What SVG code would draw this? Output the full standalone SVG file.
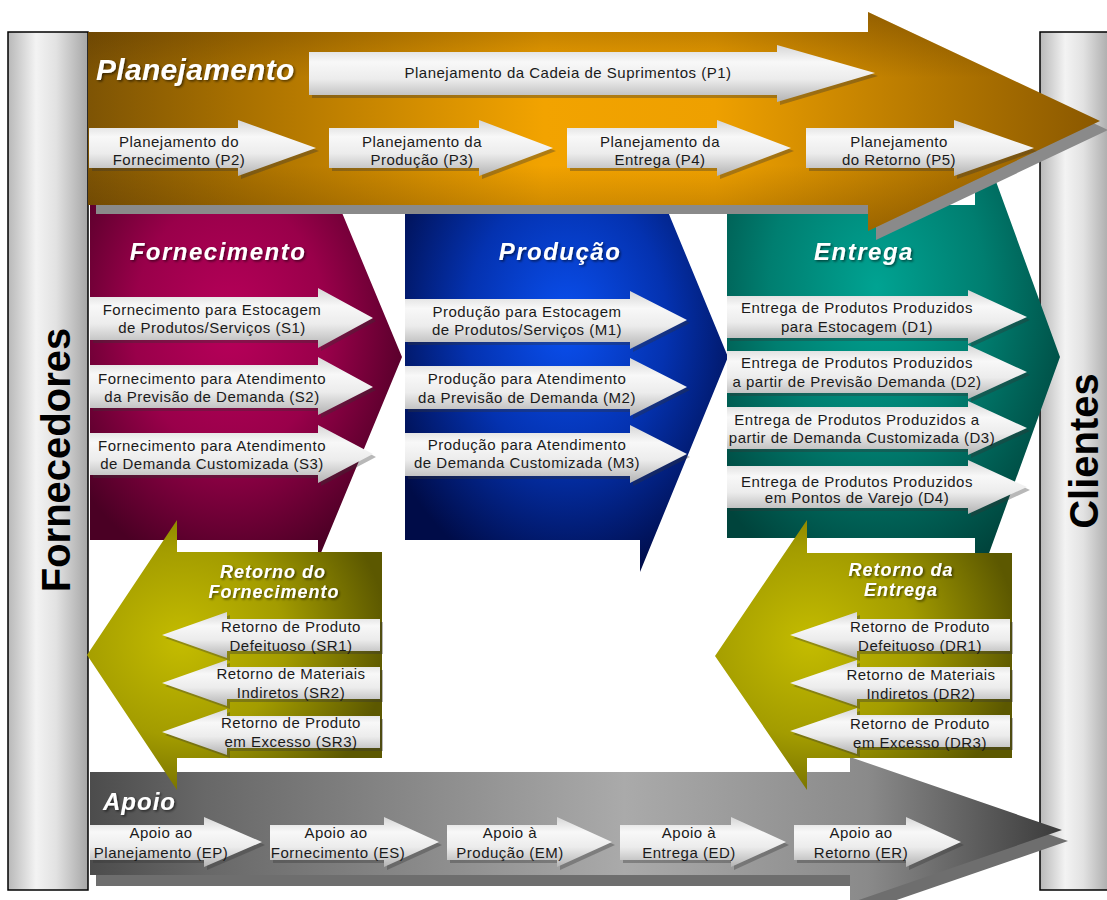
<svg xmlns="http://www.w3.org/2000/svg" width="1107" height="900" viewBox="0 0 1107 900">
<style>
.t{font-family:"Liberation Sans",Arial,sans-serif;font-size:15px;letter-spacing:0.5px;fill:#1a1a1a;text-anchor:middle}
.h{font-family:"Liberation Sans",Arial,sans-serif;font-weight:bold;font-style:italic;fill:#fff;text-anchor:middle;filter:url(#ts)}
.pt{font-family:"Liberation Sans",Arial,sans-serif;font-weight:bold;font-size:40px;fill:#000;text-anchor:middle}
.arr{fill:url(#gArr)}
.sh{fill:#333;opacity:0.35}
</style>
<defs>
<filter id="ts" x="-10%" y="-30%" width="130%" height="160%"><feDropShadow dx="1.5" dy="1.5" stdDeviation="1" flood-color="#000" flood-opacity="0.55"/></filter>
<linearGradient id="gArr" x1="0" y1="0" x2="0" y2="1"><stop offset="0" stop-color="#d6d6d6"/><stop offset="0.3" stop-color="#f8f8f8"/><stop offset="0.6" stop-color="#ececec"/><stop offset="1" stop-color="#b3b3b3"/></linearGradient>
<linearGradient id="gPil" x1="0" y1="0" x2="1" y2="0"><stop offset="0" stop-color="#b8b8b8"/><stop offset="0.35" stop-color="#f3f3f3"/><stop offset="0.6" stop-color="#e2e2e2"/><stop offset="1" stop-color="#a6a6a6"/></linearGradient>
<linearGradient id="gPlan" x1="0" y1="0" x2="1" y2="0"><stop offset="0" stop-color="#7e5404"/><stop offset="0.15" stop-color="#a87000"/><stop offset="0.45" stop-color="#f2a300"/><stop offset="0.62" stop-color="#eea000"/><stop offset="0.82" stop-color="#b87a00"/><stop offset="1" stop-color="#8a5800"/></linearGradient>
<linearGradient id="gVs" x1="0" y1="0" x2="0" y2="1"><stop offset="0" stop-color="#3c2000" stop-opacity="0.35"/><stop offset="0.3" stop-color="#3c2000" stop-opacity="0"/><stop offset="0.7" stop-color="#3c2000" stop-opacity="0"/><stop offset="1" stop-color="#3c2000" stop-opacity="0.3"/></linearGradient>
<radialGradient id="gMag" cx="0.45" cy="0.42" r="0.62"><stop offset="0" stop-color="#b8005a"/><stop offset="0.5" stop-color="#99004a"/><stop offset="1" stop-color="#4a0024"/></radialGradient>
<radialGradient id="gBlue" cx="0.5" cy="0.42" r="0.62"><stop offset="0" stop-color="#0a50f0"/><stop offset="0.5" stop-color="#0432b0"/><stop offset="1" stop-color="#000c48"/></radialGradient>
<radialGradient id="gTeal" cx="0.45" cy="0.35" r="0.65"><stop offset="0" stop-color="#00a392"/><stop offset="0.5" stop-color="#007e70"/><stop offset="1" stop-color="#00443c"/></radialGradient>
<radialGradient id="gOl" cx="0.32" cy="0.45" r="0.7"><stop offset="0" stop-color="#c4bc00"/><stop offset="0.5" stop-color="#a39c00"/><stop offset="1" stop-color="#5c5800"/></radialGradient>
<linearGradient id="gApo" x1="0" y1="0" x2="1" y2="0"><stop offset="0" stop-color="#4c4c4c"/><stop offset="0.12" stop-color="#686868"/><stop offset="0.55" stop-color="#aaaaaa"/><stop offset="0.8" stop-color="#8a8a8a"/><stop offset="1" stop-color="#3a3a3a"/></linearGradient>
</defs>
<rect x="0" y="0" width="1107" height="900" fill="#fff"/>

<g id="fornecedores">
<rect x="8" y="32" width="80" height="858" fill="url(#gPil)" stroke="#000" stroke-width="1.5"/>
<text class="pt" transform="translate(70,460) rotate(-90)">Fornecedores</text>
</g>
<g id="clientes">
<rect x="1040" y="32" width="72" height="858" fill="url(#gPil)" stroke="#000" stroke-width="1.5"/>
<text class="pt" transform="translate(1098,451) rotate(-90)">Clientes</text>
</g>

<g id="apoio">
<path d="M90 772 H850 V757 L1062 830 L850 903 V875 H90 Z" fill="#6e6e6e" transform="translate(6,11)"/>
<path d="M90 772 H850 V757 L1062 830 L850 903 V875 H90 Z" fill="url(#gApo)"/>
<text class="h" x="103" y="810" style="text-anchor:start;font-size:24px;letter-spacing:1px">Apoio</text>
<g id="ep"><path class="sh" transform="translate(3,3)" d="M90 825 H204 V817 L262 842 L204 867 V860 H90 Z"/><path class="arr" d="M90 825 H204 V817 L262 842 L204 867 V860 H90 Z"/><text class="t" x="161" y="838">Apoio ao</text><text class="t" x="161" y="858">Planejamento (EP)</text></g>
<g id="es"><path class="sh" transform="translate(3,3)" d="M270 825 H384 V817 L439 842 L384 867 V860 H270 Z"/><path class="arr" d="M270 825 H384 V817 L439 842 L384 867 V860 H270 Z"/><text class="t" x="336" y="838">Apoio ao</text><text class="t" x="338" y="858">Fornecimento (ES)</text></g>
<g id="em"><path class="sh" transform="translate(3,3)" d="M447 825 H557 V817 L612 842 L557 867 V860 H447 Z"/><path class="arr" d="M447 825 H557 V817 L612 842 L557 867 V860 H447 Z"/><text class="t" x="510" y="838">Apoio à</text><text class="t" x="510" y="858">Produção (EM)</text></g>
<g id="ed"><path class="sh" transform="translate(3,3)" d="M620 825 H731 V817 L786 842 L731 867 V860 H620 Z"/><path class="arr" d="M620 825 H731 V817 L786 842 L731 867 V860 H620 Z"/><text class="t" x="689" y="838">Apoio à</text><text class="t" x="689" y="858">Entrega (ED)</text></g>
<g id="er"><path class="sh" transform="translate(3,3)" d="M794 825 H906 V817 L961 842 L906 867 V860 H794 Z"/><path class="arr" d="M794 825 H906 V817 L961 842 L906 867 V860 H794 Z"/><text class="t" x="861" y="838">Apoio ao</text><text class="t" x="861" y="858">Retorno (ER)</text></g>
</g>

<g id="fornecimento">
<path d="M90 205 H318 V155 L402 357 L318 560 V540 H90 Z" fill="url(#gMag)"/>
<text class="h" x="218" y="260" style="font-size:24px;letter-spacing:1.5px">Fornecimento</text>
<g id="s1"><path class="sh" transform="translate(3,3)" d="M90 297 H318 V288 L373 318 L318 348 V340 H90 Z"/><path class="arr" d="M90 297 H318 V288 L373 318 L318 348 V340 H90 Z"/><text class="t" x="212" y="315">Fornecimento para Estocagem</text><text class="t" x="212" y="333">de Produtos/Serviços (S1)</text></g>
<g id="s2"><path class="sh" transform="translate(3,3)" d="M90 365 H318 V357 L373 387 L318 415 V408 H90 Z"/><path class="arr" d="M90 365 H318 V357 L373 387 L318 415 V408 H90 Z"/><text class="t" x="212" y="384">Fornecimento para Atendimento</text><text class="t" x="212" y="402">da Previsão de Demanda (S2)</text></g>
<g id="s3"><path class="sh" transform="translate(3,3)" d="M90 433 H318 V425 L373 454 L318 483 V475 H90 Z"/><path class="arr" d="M90 433 H318 V425 L373 454 L318 483 V475 H90 Z"/><text class="t" x="212" y="451">Fornecimento para Atendimento</text><text class="t" x="212" y="469">de Demanda Customizada (S3)</text></g>
</g>

<g id="producao">
<path d="M405 205 H640 V144 L728 357 L640 572 V540 H405 Z" fill="url(#gBlue)"/>
<text class="h" x="560" y="260" style="font-size:24px;letter-spacing:1.5px">Produção</text>
<g id="m1"><path class="sh" transform="translate(3,3)" d="M405 299 H630 V291 L687 320 L630 349 V342 H405 Z"/><path class="arr" d="M405 299 H630 V291 L687 320 L630 349 V342 H405 Z"/><text class="t" x="527" y="317">Produção para Estocagem</text><text class="t" x="527" y="335">de Produtos/Serviços (M1)</text></g>
<g id="m2"><path class="sh" transform="translate(3,3)" d="M405 366 H630 V358 L687 387 L630 416 V409 H405 Z"/><path class="arr" d="M405 366 H630 V358 L687 387 L630 416 V409 H405 Z"/><text class="t" x="527" y="384">Produção para Atendimento</text><text class="t" x="527" y="403">da Previsão de Demanda (M2)</text></g>
<g id="m3"><path class="sh" transform="translate(3,3)" d="M405 433 H630 V425 L687 454 L630 483 V476 H405 Z"/><path class="arr" d="M405 433 H630 V425 L687 454 L630 483 V476 H405 Z"/><text class="t" x="527" y="450">Produção para Atendimento</text><text class="t" x="527" y="468">de Demanda Customizada (M3)</text></g>
</g>

<g id="entrega">
<path d="M727 205 H975 V124 L1060 357 L975 592 V538 H727 Z" fill="url(#gTeal)"/>
<text class="h" x="864" y="260" style="font-size:24px;letter-spacing:1.5px">Entrega</text>
<g id="d1"><path class="sh" transform="translate(3,3)" d="M727 296 H968 V290 L1027 317 L968 344 V338 H727 Z"/><path class="arr" d="M727 296 H968 V290 L1027 317 L968 344 V338 H727 Z"/><text class="t" x="857" y="313">Entrega de Produtos Produzidos</text><text class="t" x="857" y="332">para Estocagem (D1)</text></g>
<g id="d2"><path class="sh" transform="translate(3,3)" d="M727 351 H968 V345 L1027 372 L968 399 V393 H727 Z"/><path class="arr" d="M727 351 H968 V345 L1027 372 L968 399 V393 H727 Z"/><text class="t" x="857" y="368">Entrega de Produtos Produzidos</text><text class="t" x="857" y="387">a partir de Previsão Demanda (D2)</text></g>
<g id="d3"><path class="sh" transform="translate(3,3)" d="M727 407 H968 V401 L1027 428 L968 455 V449 H727 Z"/><path class="arr" d="M727 407 H968 V401 L1027 428 L968 455 V449 H727 Z"/><text class="t" x="857" y="425">Entrega de Produtos Produzidos a</text><text class="t" x="862" y="443">partir de Demanda Customizada (D3)</text></g>
<g id="d4"><path class="sh" transform="translate(3,3)" d="M727 466 H968 V460 L1027 487 L968 514 V508 H727 Z"/><path class="arr" d="M727 466 H968 V460 L1027 487 L968 514 V508 H727 Z"/><text class="t" x="857" y="487">Entrega de Produtos Produzidos</text><text class="t" x="857" y="503">em Pontos de Varejo (D4)</text></g>
</g>

<g id="planejamento">
<path d="M88 32 H868 V12 L1100 121 L868 231 V205 H88 Z" fill="#8a8a8a" transform="translate(8,9)"/>
<path d="M88 32 H868 V12 L1100 121 L868 231 V205 H88 Z" fill="url(#gPlan)"/>
<path d="M88 32 H868 V12 L1100 121 L868 231 V205 H88 Z" fill="url(#gVs)"/>
<text class="h" x="96" y="80" style="text-anchor:start;font-size:30px;letter-spacing:0.3px">Planejamento</text>
<g id="p1"><path class="sh" transform="translate(3,3)" d="M309 52 H777 V45 L875 73 L777 102 V95 H309 Z"/><path class="arr" d="M309 52 H777 V45 L875 73 L777 102 V95 H309 Z"/><text class="t" x="568" y="78">Planejamento da Cadeia de Suprimentos (P1)</text></g>
<g id="p2"><path class="sh" transform="translate(3,3)" d="M89 128 H238 V120 L316 148 L238 176 V168 H89 Z"/><path class="arr" d="M89 128 H238 V120 L316 148 L238 176 V168 H89 Z"/><text class="t" x="179" y="147">Planejamento do</text><text class="t" x="179" y="165">Fornecimento (P2)</text></g>
<g id="p3"><path class="sh" transform="translate(3,3)" d="M329 128 H479 V120 L553 148 L479 176 V168 H329 Z"/><path class="arr" d="M329 128 H479 V120 L553 148 L479 176 V168 H329 Z"/><text class="t" x="422" y="147">Planejamento da</text><text class="t" x="422" y="165">Produção (P3)</text></g>
<g id="p4"><path class="sh" transform="translate(3,3)" d="M567 128 H717 V120 L791 148 L717 176 V168 H567 Z"/><path class="arr" d="M567 128 H717 V120 L791 148 L717 176 V168 H567 Z"/><text class="t" x="660" y="147">Planejamento da</text><text class="t" x="660" y="165">Entrega (P4)</text></g>
<g id="p5"><path class="sh" transform="translate(3,3)" d="M806 128 H954 V120 L1034 148 L954 176 V168 H806 Z"/><path class="arr" d="M806 128 H954 V120 L1034 148 L954 176 V168 H806 Z"/><text class="t" x="899" y="147">Planejamento</text><text class="t" x="899" y="165">do Retorno (P5)</text></g>
</g>

<g id="retorno-fornecimento">
<path d="M382 552 V758 H177 V790 L87 655 L177 520 V552 Z" fill="url(#gOl)"/>
<text class="h" x="273" y="578" style="font-size:18px;letter-spacing:1px">Retorno do</text>
<text class="h" x="274" y="598" style="font-size:18px;letter-spacing:1px">Fornecimento</text>
<g id="sr1"><path class="sh" transform="translate(3,3)" d="M380 619 V651 H227 V658 L162 635 L227 612 V619 Z"/><path class="arr" d="M380 619 V651 H227 V658 L162 635 L227 612 V619 Z"/><text class="t" x="291" y="632">Retorno de Produto</text><text class="t" x="291" y="651">Defeituoso (SR1)</text></g>
<g id="sr2"><path class="sh" transform="translate(3,3)" d="M380 667 V699 H227 V706 L162 683 L227 660 V667 Z"/><path class="arr" d="M380 667 V699 H227 V706 L162 683 L227 660 V667 Z"/><text class="t" x="291" y="679">Retorno de Materiais</text><text class="t" x="291" y="698">Indiretos (SR2)</text></g>
<g id="sr3"><path class="sh" transform="translate(3,3)" d="M380 716 V748 H227 V755 L162 732 L227 709 V716 Z"/><path class="arr" d="M380 716 V748 H227 V755 L162 732 L227 709 V716 Z"/><text class="t" x="291" y="728">Retorno de Produto</text><text class="t" x="291" y="747">em Excesso (SR3)</text></g>
</g>

<g id="retorno-entrega">
<path d="M1012 553 V758 H807 V790 L715 656 L807 520 V553 Z" fill="url(#gOl)"/>
<text class="h" x="901" y="576" style="font-size:18px;letter-spacing:1px">Retorno da</text>
<text class="h" x="901" y="596" style="font-size:18px;letter-spacing:1px">Entrega</text>
<g id="dr1"><path class="sh" transform="translate(3,3)" d="M1010 619 V651 H857 V658 L790 635 L857 612 V619 Z"/><path class="arr" d="M1010 619 V651 H857 V658 L790 635 L857 612 V619 Z"/><text class="t" x="920" y="632">Retorno de Produto</text><text class="t" x="920" y="651">Defeituoso (DR1)</text></g>
<g id="dr2"><path class="sh" transform="translate(3,3)" d="M1010 667 V699 H857 V706 L790 683 L857 660 V667 Z"/><path class="arr" d="M1010 667 V699 H857 V706 L790 683 L857 660 V667 Z"/><text class="t" x="921" y="680">Retorno de Materiais</text><text class="t" x="921" y="699">Indiretos (DR2)</text></g>
<g id="dr3"><path class="sh" transform="translate(3,3)" d="M1010 715 V747 H857 V754 L790 731 L857 708 V715 Z"/><path class="arr" d="M1010 715 V747 H857 V754 L790 731 L857 708 V715 Z"/><text class="t" x="920" y="729">Retorno de Produto</text><text class="t" x="920" y="748">em Excesso (DR3)</text></g>
</g>
</svg>
